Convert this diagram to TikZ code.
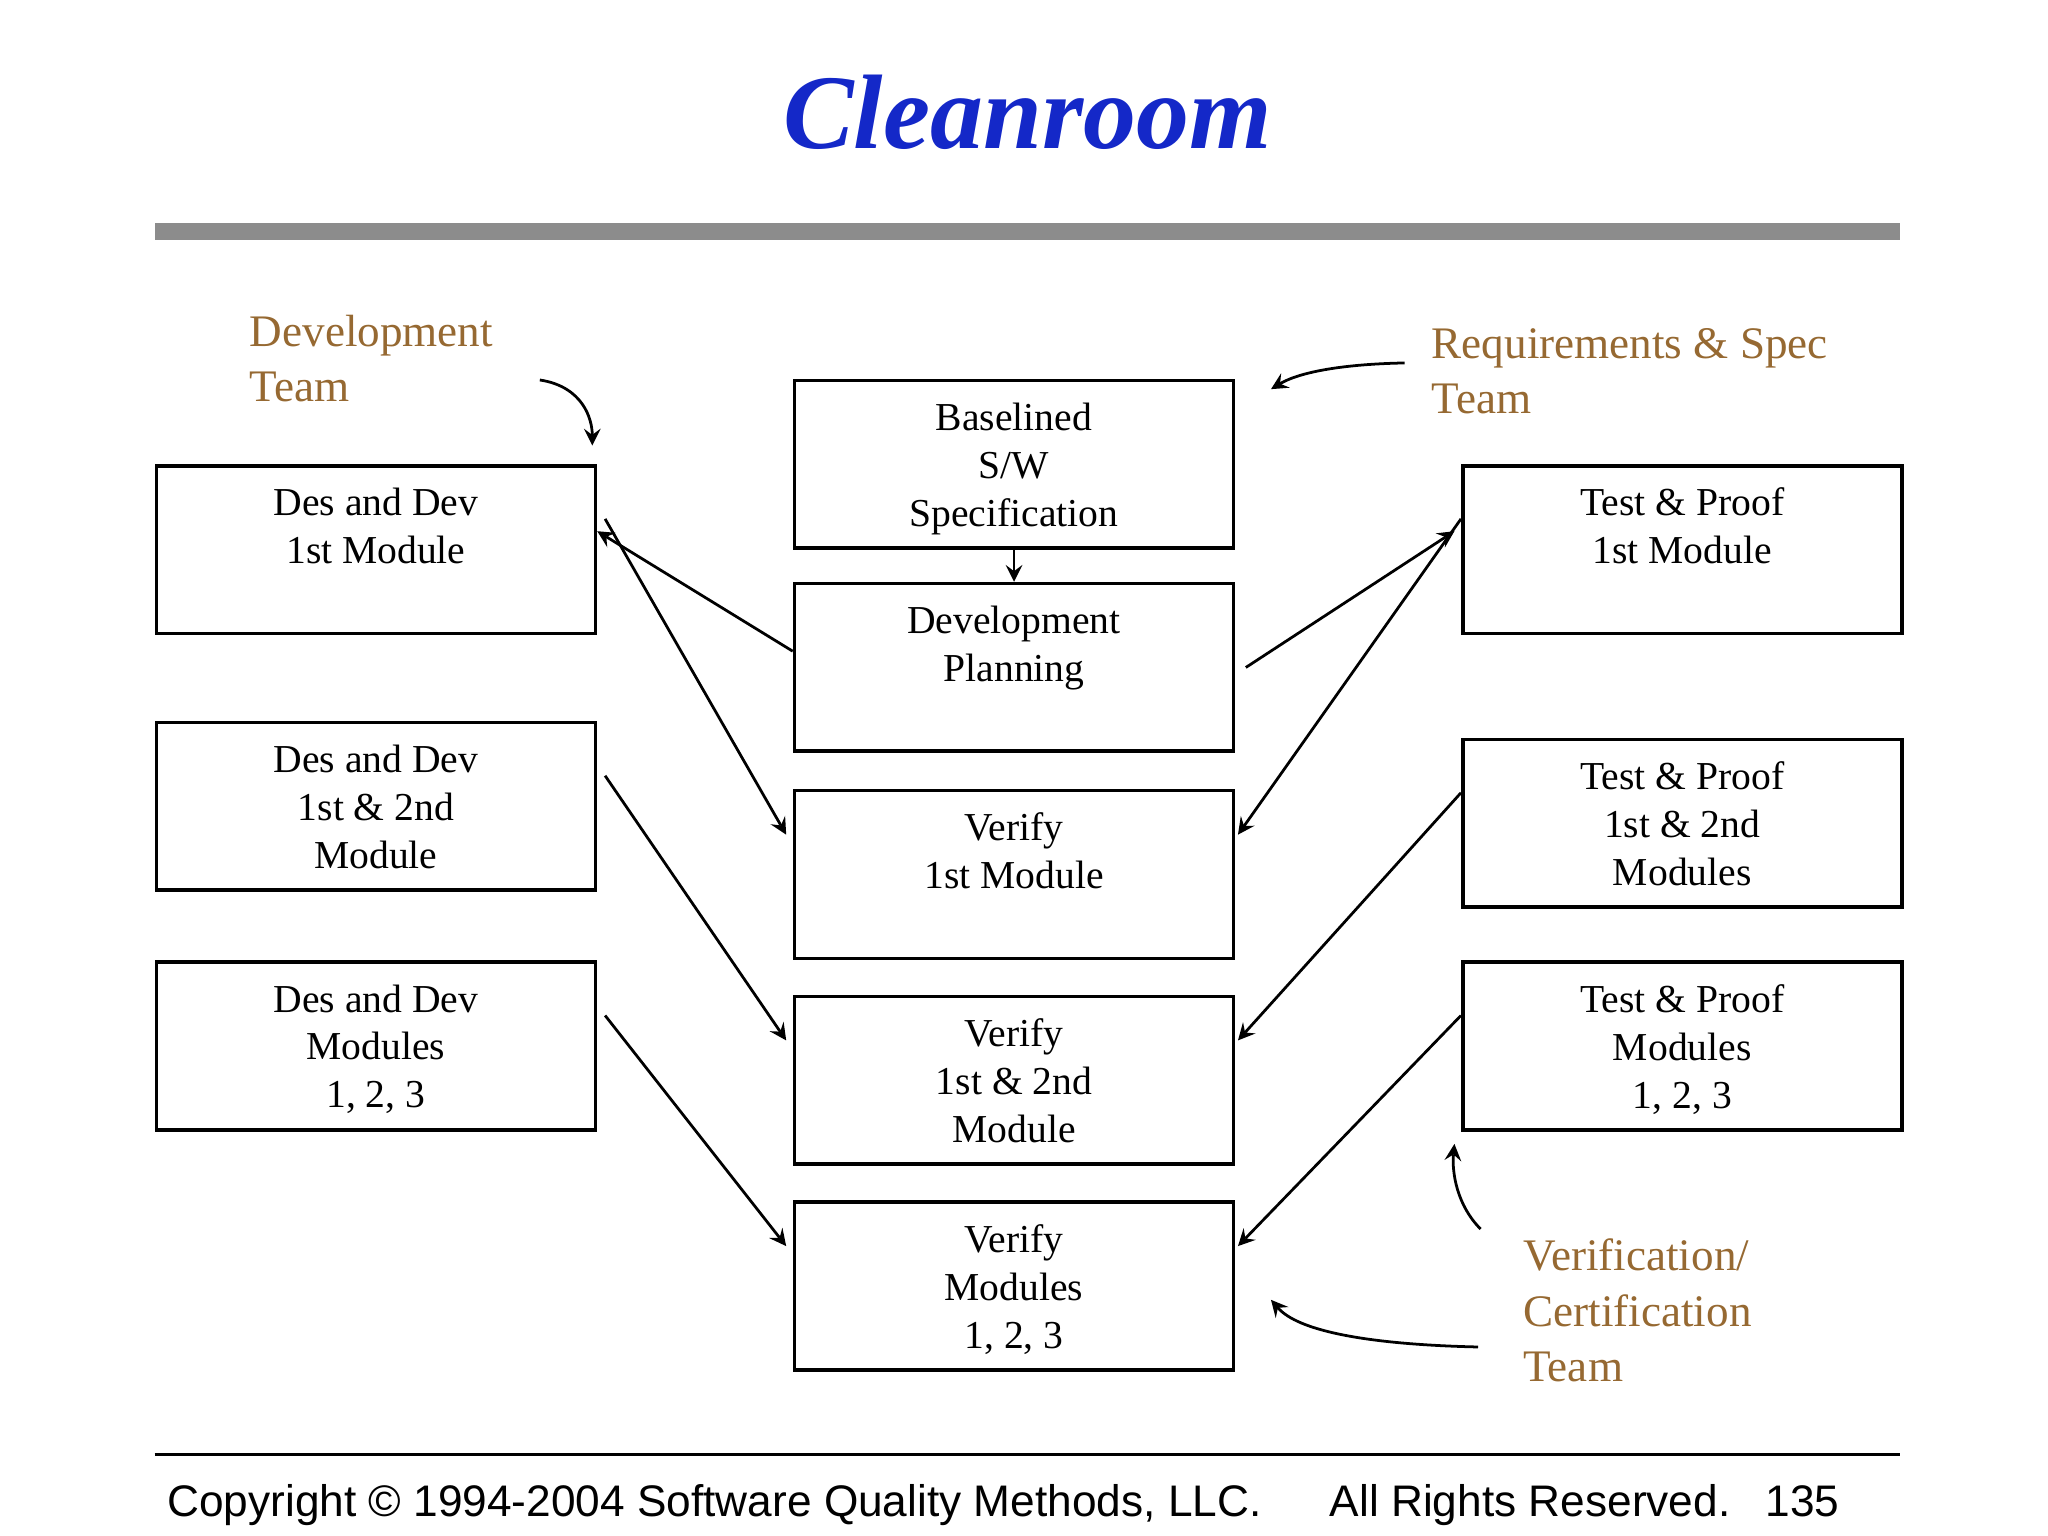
\documentclass[tikz,border=0pt]{standalone}
\usepackage{fontspec}
\setmainfont{Liberation Serif}
\newfontfamily\sansfont{Liberation Sans}
\usetikzlibrary{positioning}
\definecolor{titleblue}{RGB}{20,40,200}
\definecolor{teambrown}{RGB}{150,105,50}
\tikzset{
  box/.style={draw,thick,minimum width=3.35cm,minimum height=1.28cm,anchor=north west,inner sep=0pt},
  boxtext/.style={anchor=north,yshift=-0.06cm,align=center,font=\fontsize{8.6}{10.4}\selectfont},
  team/.style={anchor=north west,align=left,text=teambrown,inner sep=0pt,font=\fontsize{9.8}{12}\selectfont},
  arr/.style={->,>=stealth,semithick}
}
\begin{document}
\begin{tikzpicture}
  \useasboundingbox (0,0) rectangle (15.63,-11.72);
  %Title and rules
  \node[text=titleblue,font=\fontsize{23}{26}\bfseries\itshape\selectfont] (title) at (7.84,-0.86) {Cleanroom};
  \fill[gray!90] (1.18,-1.70) rectangle (14.50,-1.83);
  \draw[thick] (1.18,-11.10) -- (14.50,-11.10);
  \node[font=\sansfont\fontsize{9.6}{11}\selectfont,anchor=west,inner sep=0pt] (copy) at (1.27,-11.49) {Copyright \textcopyright{} 1994-2004 Software Quality Methods, LLC.\hspace{1.55em}All Rights Reserved.\hspace{0.8em}135};
  %Left column
  \node[box,label={[boxtext]north:Des and Dev\\1st Module}] (des1) at (1.18,-3.54) {};
  \node[box,label={[boxtext]north:Des and Dev\\1st \& 2nd\\Module}] (des2) at (1.18,-5.50) {};
  \node[box,label={[boxtext]north:Des and Dev\\Modules\\1, 2, 3}] (des3) at (1.18,-7.33) {};
  %Centre column
  \node[box,label={[boxtext]north:Baselined\\S/W\\Specification}] (spec) at (6.05,-2.89) {};
  \node[box,label={[boxtext]north:Development\\Planning}] (plan) at (6.05,-4.44) {};
  \node[box,label={[boxtext]north:Verify\\1st Module}] (ver1) at (6.05,-6.02) {};
  \node[box,label={[boxtext]north:Verify\\1st \& 2nd\\Module}] (ver2) at (6.05,-7.59) {};
  \node[box,label={[boxtext]north:Verify\\Modules\\1, 2, 3}] (ver3) at (6.05,-9.16) {};
  %Right column
  \node[box,label={[boxtext]north:Test \& Proof\\1st Module}] (test1) at (11.15,-3.54) {};
  \node[box,label={[boxtext]north:Test \& Proof\\1st \& 2nd\\Modules}] (test2) at (11.15,-5.63) {};
  \node[box,label={[boxtext]north:Test \& Proof\\Modules\\1, 2, 3}] (test3) at (11.15,-7.33) {};
  %Teams
  \node[team] (devteam) at (1.90,-2.40) {Development\\Team};
  \node[team] (reqteam) at (10.92,-2.50) {Requirements \& Spec\\Team};
  \node[team] (verteam) at (11.62,-9.45) {Verification/\\Certification\\Team};
  %Flow
  \draw[arr] (spec.south) -- (plan.north);
  \draw[arr] ([yshift=-0.53cm]plan.north west) -- ([yshift=0.14cm]des1.east);
  \draw[arr] ([xshift=0.08cm]plan.east) -- ([yshift=0.14cm,xshift=-0.05cm]test1.west);
  \foreach \d/\t/\v in {des1/test1/ver1,des2/test2/ver2,des3/test3/ver3}{
    \draw[arr] ([xshift=0.06cm,yshift=-0.42cm]\d.north east) -- ([xshift=-0.05cm,yshift=-0.35cm]\v.north west);
    \draw[arr] ([yshift=-0.42cm]\t.north west) -- ([xshift=0.02cm,yshift=-0.35cm]\v.north east);
  }
  %Team pointers
  \draw[arr] (4.12,-2.90) .. controls (4.45,-2.95) and (4.52,-3.20) .. (4.52,-3.40);
  \draw[arr] (10.72,-2.77) .. controls (10.20,-2.78) and (9.90,-2.85) .. (9.70,-2.97);
  \draw[arr] (11.30,-9.38) .. controls (11.12,-9.20) and (11.08,-8.95) .. (11.10,-8.73);
  \draw[arr] (11.28,-10.28) .. controls (10.40,-10.26) and (9.90,-10.15) .. (9.70,-9.92);
\end{tikzpicture}
\end{document}
